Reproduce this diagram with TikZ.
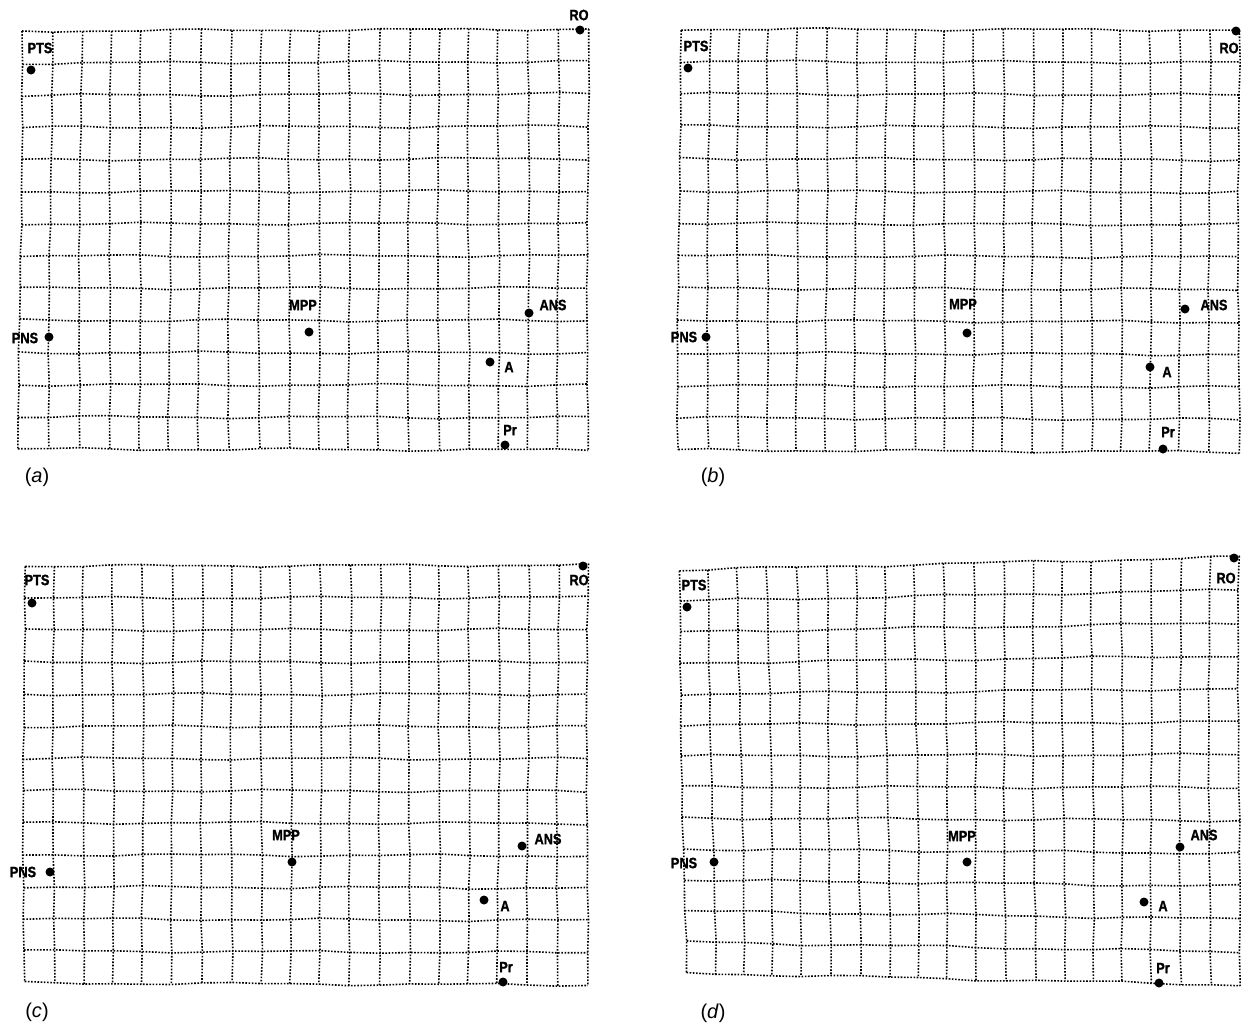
\documentclass[tikz,border=0pt]{standalone}
\usepackage{fontspec}
\setmainfont{Liberation Sans}
\newfontfamily\lblfont{Liberation Sans}[FakeStretch=0.85,FakeBold=1.2]
\tikzset{
  gridline/.style={line width=1.6pt, dash pattern=on 1.6pt off 1.6pt, black},
  landmark/.style={circle, fill=black, inner sep=0pt, minimum size=9pt},
  lbl/.style={font=\lblfont\bfseries\fontsize{15}{15}\selectfont, inner sep=0pt},
  capt/.style={font=\fontsize{20}{20}\selectfont, inner sep=0pt},
}
% #1 phase, #2..#9 corners TLx TLy TRx TRy BRx BRy BLx BLy (pixels, y down)
\newcommand\warpgrid[9]{%
\begin{scope}[declare function={
  gx(\x,\y)=(1-\x/19)*(1-\y/13)*#2+(\x/19)*(1-\y/13)*#4+(\x/19)*(\y/13)*#6+(1-\x/19)*(\y/13)*#8
     +1.0*sin(61*\x+23*\y+#1)+0.6*sin(137*\y+11*\x+2*#1);
  gy(\x,\y)=(1-\x/19)*(1-\y/13)*#3+(\x/19)*(1-\y/13)*#5+(\x/19)*(\y/13)*#7+(1-\x/19)*(\y/13)*#9
     +1.0*sin(47*\x+71*\y+#1)+0.6*sin(113*\x+29*\y+3*#1);
}]
  \foreach \j in {0,...,13}
    \draw[gridline] plot[variable=\t, domain=0:19, samples=20] ({gx(\t,\j)},{gy(\t,\j)});
  \foreach \i in {0,...,19}
    \draw[gridline] plot[variable=\t, domain=0:13, samples=14] ({gx(\i,\t)},{gy(\i,\t)});
\end{scope}}
\begin{document}
\begin{tikzpicture}[x=1pt,y=-1pt]
\useasboundingbox (0,0) rectangle (1241,1026);
\fill[white] (0,0) rectangle (1241,1026);

% grids
\warpgrid{0}{22}{31}{588}{29}{588}{450}{19}{449}
\warpgrid{40}{680}{29}{1239}{30}{1239}{452}{678}{450}
\warpgrid{80}{24}{566}{588}{565}{587}{985}{24}{983}
\warpgrid{120}{679}{570}{1239}{557}{1239}{985}{686}{973}

% panel (a)
\node[landmark] (aPTS) at (31,70) {};   \node[lbl] (aPTSl) at (40,48) {PTS};
\node[landmark] (aRO) at (580,30) {};   \node[lbl] (aROl) at (579,15) {RO};
\node[landmark] (aMPP) at (309,332) {}; \node[lbl] (aMPPl) at (303,305) {MPP};
\node[landmark] (aANS) at (529,313) {}; \node[lbl] (aANSl) at (553,305) {ANS};
\node[landmark] (aPNS) at (49,337) {};  \node[lbl] (aPNSl) at (25,338) {PNS};
\node[landmark] (aA) at (490,362) {};   \node[lbl] (aAl) at (509,367) {A};
\node[landmark] (aPr) at (505,445) {};  \node[lbl] (aPrl) at (510,430) {Pr};
\node[capt] (capa) at (37,477) {(\textit{a})};

% panel (b)
\node[landmark] (bPTS) at (688,68) {};   \node[lbl] (bPTSl) at (696,46) {PTS};
\node[landmark] (bRO) at (1236,31) {};   \node[lbl] (bROl) at (1229,48) {RO};
\node[landmark] (bMPP) at (967,333) {};  \node[lbl] (bMPPl) at (963,304) {MPP};
\node[landmark] (bANS) at (1185,309) {}; \node[lbl] (bANSl) at (1214,305) {ANS};
\node[landmark] (bPNS) at (706,337) {};  \node[lbl] (bPNSl) at (684,337) {PNS};
\node[landmark] (bA) at (1150,367) {};   \node[lbl] (bAl) at (1167,372) {A};
\node[landmark] (bPr) at (1163,449) {};  \node[lbl] (bPrl) at (1168,432) {Pr};
\node[capt] (capb) at (713,477) {(\textit{b})};

% panel (c)
\node[landmark] (cPTS) at (32,603) {};   \node[lbl] (cPTSl) at (37,580) {PTS};
\node[landmark] (cRO) at (583,566) {};   \node[lbl] (cROl) at (579,580) {RO};
\node[landmark] (cMPP) at (292,862) {};  \node[lbl] (cMPPl) at (286,835) {MPP};
\node[landmark] (cANS) at (522,846) {};  \node[lbl] (cANSl) at (548,839) {ANS};
\node[landmark] (cPNS) at (50,872) {};   \node[lbl] (cPNSl) at (23,872) {PNS};
\node[landmark] (cA) at (484,900) {};    \node[lbl] (cAl) at (505,906) {A};
\node[landmark] (cPr) at (503,982) {};   \node[lbl] (cPrl) at (506,967) {Pr};
\node[capt] (capc) at (37,1012) {(\textit{c})};

% panel (d)
\node[landmark] (dPTS) at (687,607) {};   \node[lbl] (dPTSl) at (694,585) {PTS};
\node[landmark] (dRO) at (1234,558) {};   \node[lbl] (dROl) at (1226,578) {RO};
\node[landmark] (dMPP) at (967,862) {};   \node[lbl] (dMPPl) at (962,836) {MPP};
\node[landmark] (dANS) at (1180,847) {};  \node[lbl] (dANSl) at (1204,835) {ANS};
\node[landmark] (dPNS) at (714,862) {};   \node[lbl] (dPNSl) at (684,863) {PNS};
\node[landmark] (dA) at (1144,902) {};    \node[lbl] (dAl) at (1163,906) {A};
\node[landmark] (dPr) at (1159,983) {};   \node[lbl] (dPrl) at (1163,968) {Pr};
\node[capt] (capd) at (713,1013) {(\textit{d})};
\end{tikzpicture}
\end{document}
